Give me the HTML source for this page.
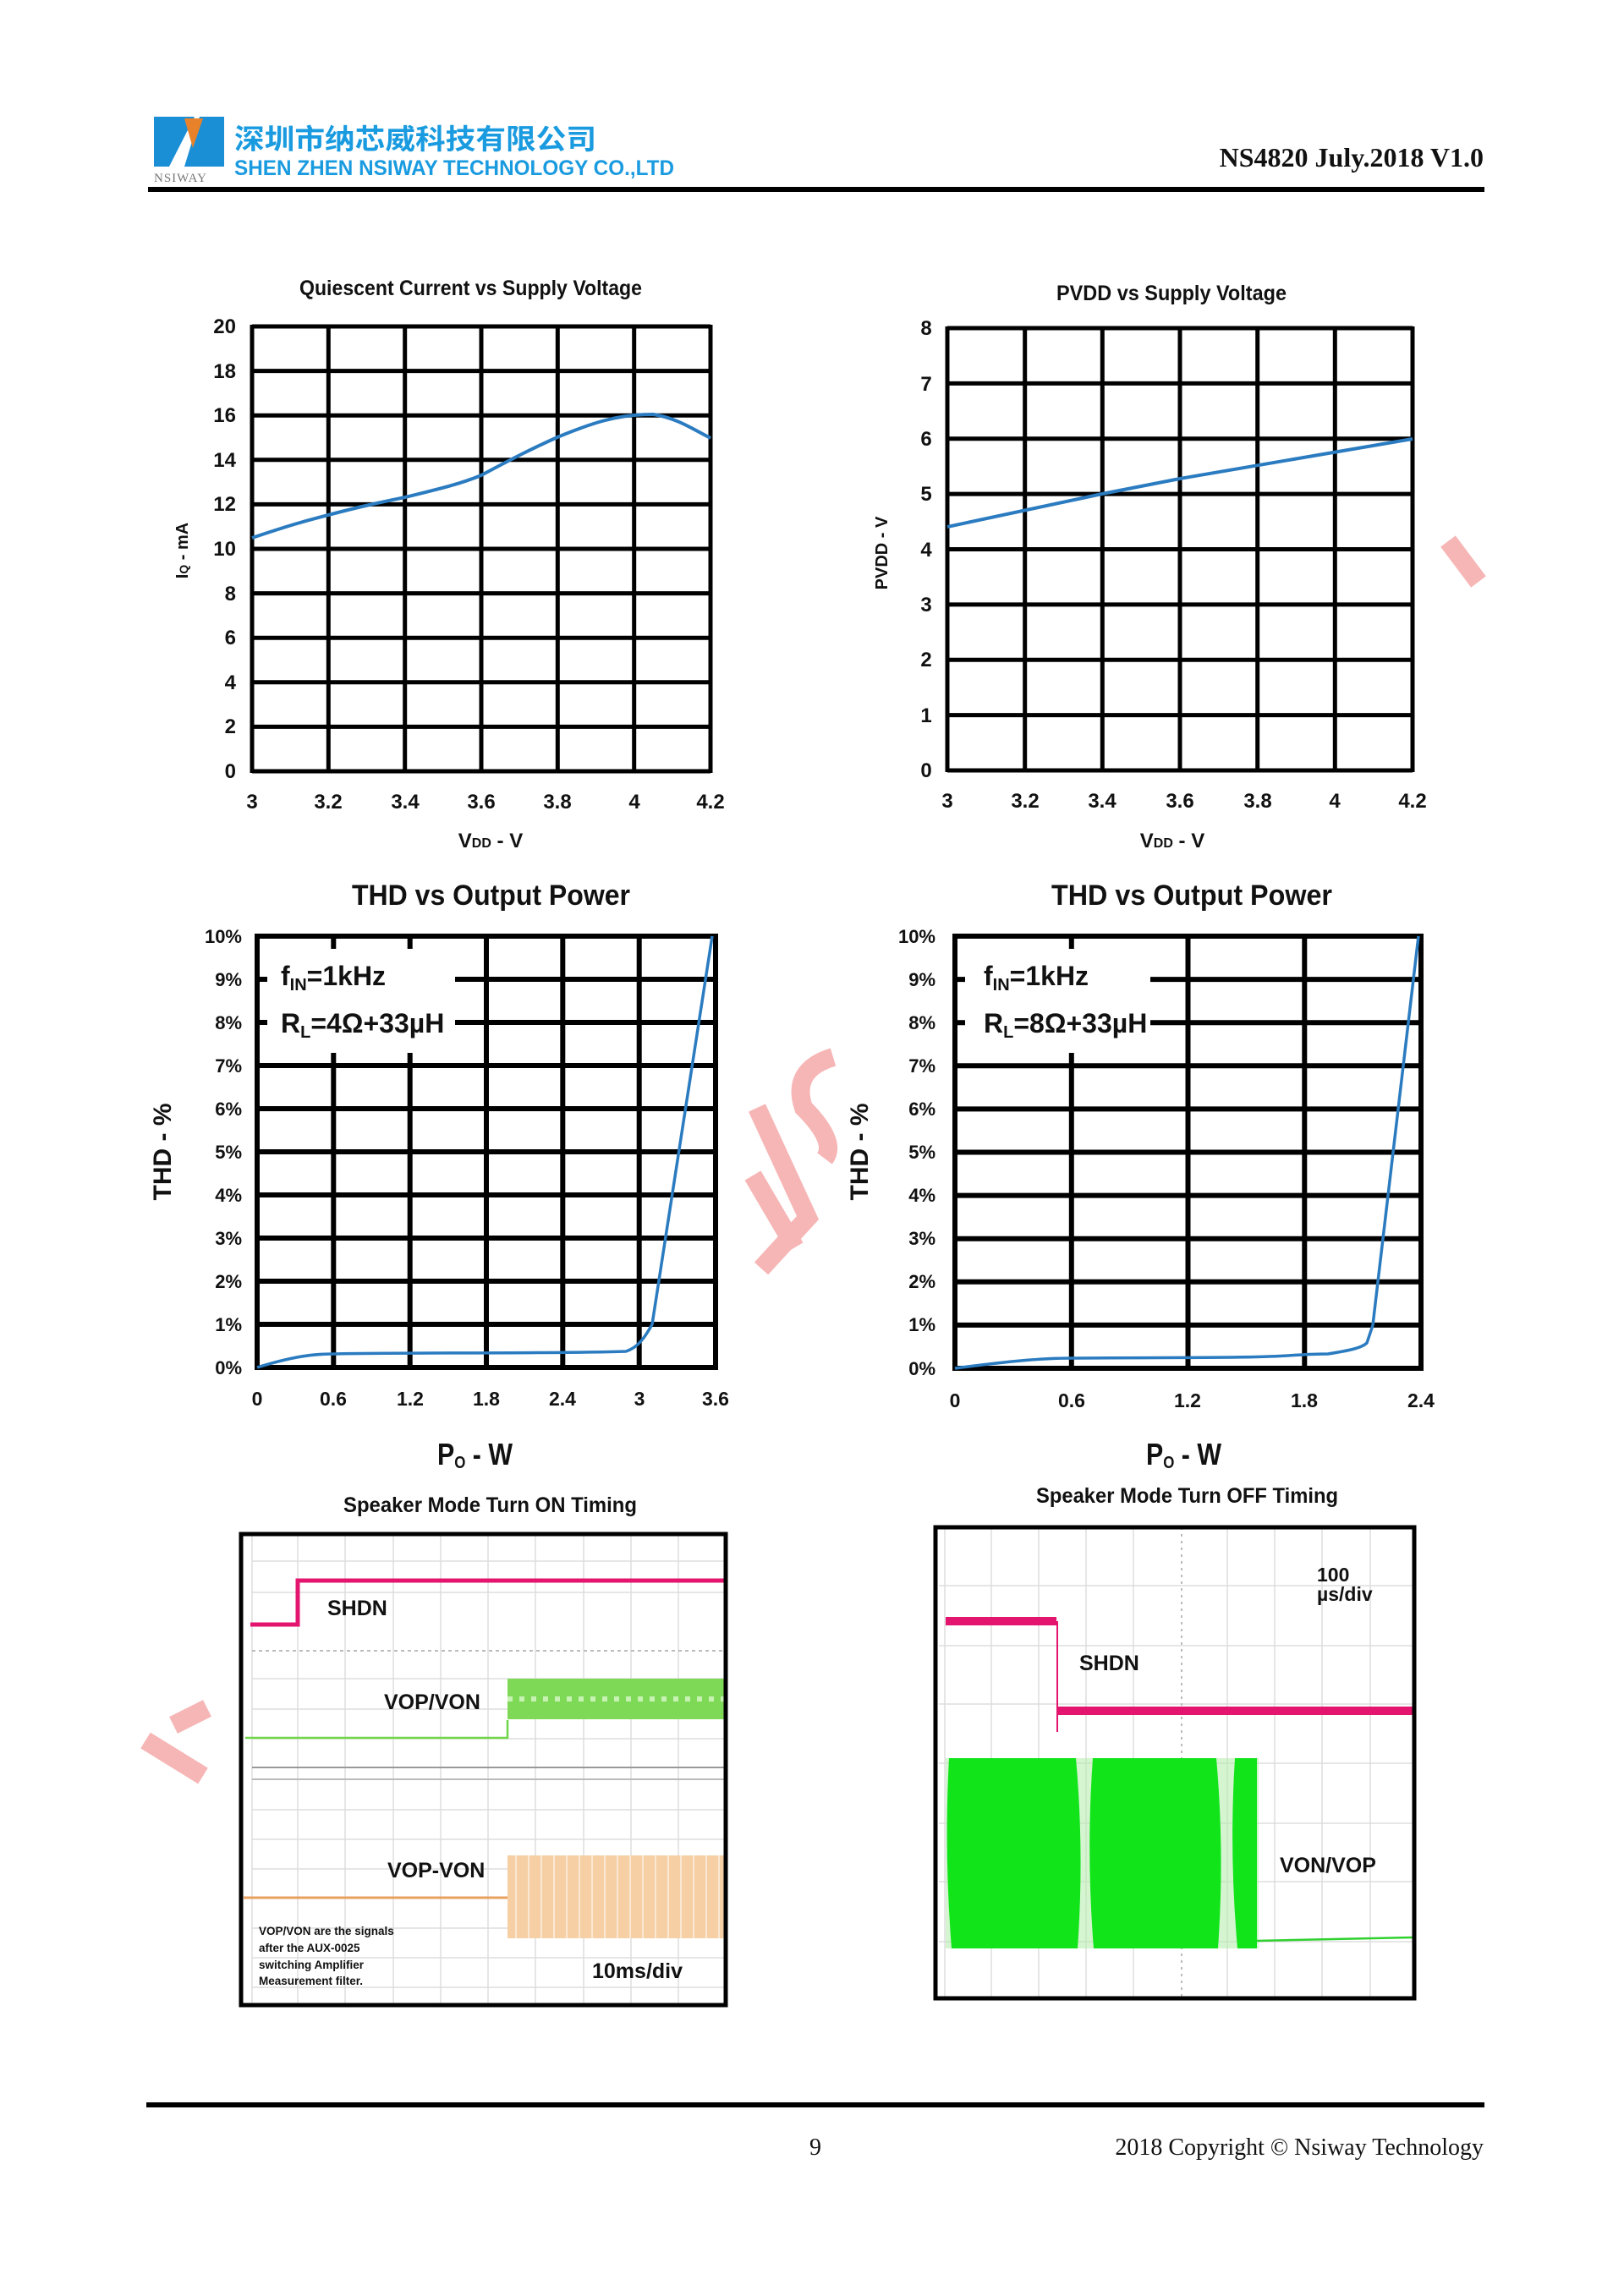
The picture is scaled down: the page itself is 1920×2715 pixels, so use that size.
<!DOCTYPE html>
<html><head><meta charset="utf-8"><style>
html,body{margin:0;padding:0;background:#fff;}
svg{display:block;}
.n{font-family:"Liberation Sans Narrow","Liberation Sans",sans-serif;font-weight:bold;fill:#111;}
.a{font-family:"Liberation Sans",sans-serif;font-weight:bold;fill:#111;}
</style></head><body>
<svg width="1920" height="2715" viewBox="0 0 1920 2715" xmlns="http://www.w3.org/2000/svg">
<rect width="1920" height="2715" fill="#fff"/>
<g fill="none" stroke="#f7b6b6" stroke-width="22" stroke-linecap="butt">
<polyline points="895,1310 955,1440 900,1500"/>
<polyline points="890,1390 940,1475"/>
<path d="M985,1250 Q935,1265 950,1310 Q990,1350 975,1370"/>
<polyline points="1712,640 1748,688"/>
<polyline points="172,2058 240,2100"/>
<polyline points="205,2040 245,2020"/>
</g>
<polygon points="182,138 230,138 200,197 182,197" fill="#1b8fd6"/>
<polygon points="236,138 265,138 265,197 218,197" fill="#1b8fd6"/>
<polygon points="218,140 240,140 228,175" fill="#e8822a"/>
<text x="182" y="215" font-family="Liberation Serif,serif" font-size="15" fill="#777" letter-spacing="1">NSIWAY</text>
<text x="277" y="176" font-family="'Liberation Sans','Noto Sans CJK SC',sans-serif" font-weight="bold" font-size="33" fill="#1a9be0" textLength="428" lengthAdjust="spacingAndGlyphs">深圳市纳芯威科技有限公司</text>
<text x="277" y="207" class="n" style="fill:#1a9be0" font-size="25" textLength="520" lengthAdjust="spacingAndGlyphs">SHEN ZHEN NSIWAY TECHNOLOGY CO.,LTD</text>
<text x="1754" y="197" text-anchor="end" font-family="Liberation Serif,serif" font-weight="bold" font-size="32" fill="#111">NS4820 July.2018 V1.0</text>
<rect x="175" y="221" width="1580" height="6" fill="#000"/>

<!-- Chart 1 -->
<text x="354" y="349" class="n" font-size="25" textLength="405" lengthAdjust="spacingAndGlyphs">Quiescent Current vs  Supply Voltage</text>
<g stroke="#000" stroke-width="5">
<line x1="298" y1="386" x2="840" y2="386"/><line x1="298" y1="438.6" x2="840" y2="438.6"/><line x1="298" y1="491.2" x2="840" y2="491.2"/><line x1="298" y1="543.8" x2="840" y2="543.8"/><line x1="298" y1="596.4" x2="840" y2="596.4"/><line x1="298" y1="649" x2="840" y2="649"/><line x1="298" y1="701.6" x2="840" y2="701.6"/><line x1="298" y1="754.2" x2="840" y2="754.2"/><line x1="298" y1="806.8" x2="840" y2="806.8"/><line x1="298" y1="859.4" x2="840" y2="859.4"/><line x1="298" y1="912" x2="840" y2="912"/>
<line x1="298" y1="384" x2="298" y2="914"/><line x1="388.3" y1="384" x2="388.3" y2="914"/><line x1="478.7" y1="384" x2="478.7" y2="914"/><line x1="569" y1="384" x2="569" y2="914"/><line x1="659.3" y1="384" x2="659.3" y2="914"/><line x1="749.7" y1="384" x2="749.7" y2="914"/><line x1="840" y1="384" x2="840" y2="914"/>
</g>
<path d="M298,636 C340,622 360,616 388,609 C430,598 450,594 479,588 C520,578 545,572 569,562 C610,540 630,530 659,517 C700,500 730,490 772,490 C800,494 820,508 840,518" fill="none" stroke="#2a7bc0" stroke-width="4"/>
<g class="n" font-size="24" text-anchor="end">
<text x="279" y="394">20</text><text x="279" y="447">18</text><text x="279" y="499">16</text><text x="279" y="552">14</text><text x="279" y="604">12</text><text x="279" y="657">10</text><text x="279" y="710">8</text><text x="279" y="762">6</text><text x="279" y="815">4</text><text x="279" y="867">2</text><text x="279" y="920">0</text>
</g>
<g class="n" font-size="24" text-anchor="middle">
<text x="298" y="956">3</text><text x="388" y="956">3.2</text><text x="479" y="956">3.4</text><text x="569" y="956">3.6</text><text x="659" y="956">3.8</text><text x="750" y="956">4</text><text x="840" y="956">4.2</text>
</g>
<text x="580" y="1002" text-anchor="middle" class="n" font-size="24">V<tspan font-size="16">DD</tspan> - V</text>
<text transform="translate(222,651) rotate(-90)" text-anchor="middle" class="a" font-size="20">I<tspan font-size="14">Q</tspan> - mA</text>

<!-- Chart 2 -->
<text x="1249" y="355" class="n" font-size="25" textLength="272" lengthAdjust="spacingAndGlyphs">PVDD vs  Supply Voltage</text>
<g stroke="#000" stroke-width="5">
<line x1="1120" y1="388" x2="1670" y2="388"/><line x1="1120" y1="453.4" x2="1670" y2="453.4"/><line x1="1120" y1="518.8" x2="1670" y2="518.8"/><line x1="1120" y1="584.1" x2="1670" y2="584.1"/><line x1="1120" y1="649.5" x2="1670" y2="649.5"/><line x1="1120" y1="714.9" x2="1670" y2="714.9"/><line x1="1120" y1="780.3" x2="1670" y2="780.3"/><line x1="1120" y1="845.6" x2="1670" y2="845.6"/><line x1="1120" y1="911" x2="1670" y2="911"/>
<line x1="1120" y1="386" x2="1120" y2="913"/><line x1="1211.7" y1="386" x2="1211.7" y2="913"/><line x1="1303.3" y1="386" x2="1303.3" y2="913"/><line x1="1395" y1="386" x2="1395" y2="913"/><line x1="1486.7" y1="386" x2="1486.7" y2="913"/><line x1="1578.3" y1="386" x2="1578.3" y2="913"/><line x1="1670" y1="386" x2="1670" y2="913"/>
</g>
<path d="M1120,623 L1303,584 L1395,566 L1670,519" fill="none" stroke="#2a7bc0" stroke-width="4"/>
<g class="n" font-size="24" text-anchor="middle">
<text x="1095" y="396">8</text><text x="1095" y="462">7</text><text x="1095" y="527">6</text><text x="1095" y="592">5</text><text x="1095" y="658">4</text><text x="1095" y="723">3</text><text x="1095" y="788">2</text><text x="1095" y="854">1</text><text x="1095" y="919">0</text>
<text x="1120" y="955">3</text><text x="1212" y="955">3.2</text><text x="1303" y="955">3.4</text><text x="1395" y="955">3.6</text><text x="1487" y="955">3.8</text><text x="1578" y="955">4</text><text x="1670" y="955">4.2</text>
</g>
<text x="1386" y="1002" text-anchor="middle" class="n" font-size="24">V<tspan font-size="16">DD</tspan> - V</text>
<text transform="translate(1049,654) rotate(-90)" text-anchor="middle" class="a" font-size="20">PVDD - V</text>

<!-- Chart 3 -->
<text x="416" y="1070" class="n" font-size="34" textLength="329" lengthAdjust="spacingAndGlyphs">THD vs Output Power</text>
<g stroke="#000" stroke-width="6">
<line x1="304" y1="1107" x2="846" y2="1107"/><line x1="304" y1="1158" x2="846" y2="1158"/><line x1="304" y1="1209" x2="846" y2="1209"/><line x1="304" y1="1260" x2="846" y2="1260"/><line x1="304" y1="1311" x2="846" y2="1311"/><line x1="304" y1="1362" x2="846" y2="1362"/><line x1="304" y1="1413" x2="846" y2="1413"/><line x1="304" y1="1464" x2="846" y2="1464"/><line x1="304" y1="1515" x2="846" y2="1515"/><line x1="304" y1="1566" x2="846" y2="1566"/><line x1="304" y1="1617" x2="846" y2="1617"/>
<line x1="304" y1="1104" x2="304" y2="1620"/><line x1="394.3" y1="1104" x2="394.3" y2="1620"/><line x1="484.7" y1="1104" x2="484.7" y2="1620"/><line x1="575" y1="1104" x2="575" y2="1620"/><line x1="665.3" y1="1104" x2="665.3" y2="1620"/><line x1="755.7" y1="1104" x2="755.7" y2="1620"/><line x1="846" y1="1104" x2="846" y2="1620"/>
</g>
<rect x="316" y="1122" width="222" height="123" fill="#fff"/>
<text x="332" y="1165" class="n" font-size="32">f<tspan font-size="20" dy="6">IN</tspan><tspan dy="-6">=1kHz</tspan></text>
<text x="332" y="1221" class="n" font-size="32">R<tspan font-size="20" dy="6">L</tspan><tspan dy="-6">=4Ω+33µH</tspan></text>
<path d="M304,1617 C340,1606 365,1601 394,1601 C450,1599 650,1601 740,1598 C752,1594 760,1586 771,1566 L842,1107" fill="none" stroke="#2a7bc0" stroke-width="3.5"/>
<g class="n" font-size="22" text-anchor="end">
<text x="286" y="1115">10%</text><text x="286" y="1166">9%</text><text x="286" y="1217">8%</text><text x="286" y="1268">7%</text><text x="286" y="1319">6%</text><text x="286" y="1370">5%</text><text x="286" y="1421">4%</text><text x="286" y="1472">3%</text><text x="286" y="1523">2%</text><text x="286" y="1574">1%</text><text x="286" y="1625">0%</text>
</g>
<g class="n" font-size="23" text-anchor="middle">
<text x="304" y="1662">0</text><text x="394" y="1662">0.6</text><text x="485" y="1662">1.2</text><text x="575" y="1662">1.8</text><text x="665" y="1662">2.4</text><text x="756" y="1662">3</text><text x="846" y="1662">3.6</text>
</g>
<text x="517" y="1732" class="n" font-size="36" textLength="89" lengthAdjust="spacingAndGlyphs">P<tspan font-size="20" dy="4">O</tspan><tspan dy="-4"> - W</tspan></text>
<text transform="translate(202,1362) rotate(-90)" text-anchor="middle" class="a" font-size="30">THD - %</text>

<!-- Chart 4 -->
<text x="1243" y="1070" class="n" font-size="34" textLength="332" lengthAdjust="spacingAndGlyphs">THD vs Output Power</text>
<g stroke="#000" stroke-width="6">
<line x1="1129" y1="1107" x2="1680" y2="1107"/><line x1="1129" y1="1158.1" x2="1680" y2="1158.1"/><line x1="1129" y1="1209.2" x2="1680" y2="1209.2"/><line x1="1129" y1="1260.3" x2="1680" y2="1260.3"/><line x1="1129" y1="1311.4" x2="1680" y2="1311.4"/><line x1="1129" y1="1362.5" x2="1680" y2="1362.5"/><line x1="1129" y1="1413.6" x2="1680" y2="1413.6"/><line x1="1129" y1="1464.7" x2="1680" y2="1464.7"/><line x1="1129" y1="1515.8" x2="1680" y2="1515.8"/><line x1="1129" y1="1566.9" x2="1680" y2="1566.9"/><line x1="1129" y1="1618" x2="1680" y2="1618"/>
<line x1="1129" y1="1104" x2="1129" y2="1621"/><line x1="1266.8" y1="1104" x2="1266.8" y2="1621"/><line x1="1404.5" y1="1104" x2="1404.5" y2="1621"/><line x1="1542.3" y1="1104" x2="1542.3" y2="1621"/><line x1="1680" y1="1104" x2="1680" y2="1621"/>
</g>
<rect x="1141" y="1122" width="219" height="123" fill="#fff"/>
<text x="1163" y="1165" class="n" font-size="32">f<tspan font-size="20" dy="6">IN</tspan><tspan dy="-6">=1kHz</tspan></text>
<text x="1163" y="1221" class="n" font-size="32">R<tspan font-size="20" dy="6">L</tspan><tspan dy="-6">=8Ω+33µH</tspan></text>
<path d="M1129,1618 C1190,1610 1230,1606 1267,1606 C1350,1605 1460,1606 1500,1604 C1530,1603 1545,1601 1570,1601 C1595,1597 1610,1594 1616,1588 L1623,1567 L1677,1107" fill="none" stroke="#2a7bc0" stroke-width="3.5"/>
<g class="n" font-size="22" text-anchor="end">
<text x="1106" y="1115">10%</text><text x="1106" y="1166">9%</text><text x="1106" y="1217">8%</text><text x="1106" y="1268">7%</text><text x="1106" y="1319">6%</text><text x="1106" y="1370">5%</text><text x="1106" y="1421">4%</text><text x="1106" y="1472">3%</text><text x="1106" y="1523">2%</text><text x="1106" y="1574">1%</text><text x="1106" y="1626">0%</text>
</g>
<g class="n" font-size="23" text-anchor="middle">
<text x="1129" y="1664">0</text><text x="1267" y="1664">0.6</text><text x="1404" y="1664">1.2</text><text x="1542" y="1664">1.8</text><text x="1680" y="1664">2.4</text>
</g>
<text x="1355" y="1732" class="n" font-size="36" textLength="89" lengthAdjust="spacingAndGlyphs">P<tspan font-size="20" dy="4">O</tspan><tspan dy="-4"> - W</tspan></text>
<text transform="translate(1026,1362) rotate(-90)" text-anchor="middle" class="a" font-size="30">THD - %</text>

<!-- Scope ON -->
<text x="406" y="1788" class="n" font-size="25" textLength="347" lengthAdjust="spacingAndGlyphs">Speaker Mode Turn ON Timing</text>
<g stroke="#ddd" stroke-width="1.5">
<line x1="298" y1="1815" x2="298" y2="2370"/><line x1="352" y1="1815" x2="352" y2="2370"/><line x1="408" y1="1815" x2="408" y2="2370"/><line x1="465" y1="1815" x2="465" y2="2370"/><line x1="521" y1="1815" x2="521" y2="2370"/><line x1="577" y1="1815" x2="577" y2="2370"/><line x1="633" y1="1815" x2="633" y2="2370"/><line x1="690" y1="1815" x2="690" y2="2370"/><line x1="746" y1="1815" x2="746" y2="2370"/><line x1="802" y1="1815" x2="802" y2="2370"/>
<line x1="298" y1="1846" x2="858" y2="1846"/><line x1="298" y1="1883" x2="858" y2="1883"/><line x1="298" y1="1985" x2="858" y2="1985"/><line x1="298" y1="2021" x2="858" y2="2021"/><line x1="298" y1="2056" x2="858" y2="2056"/><line x1="298" y1="2140" x2="858" y2="2140"/><line x1="298" y1="2175" x2="858" y2="2175"/><line x1="298" y1="2210" x2="858" y2="2210"/><line x1="298" y1="2280" x2="858" y2="2280"/><line x1="298" y1="2315" x2="858" y2="2315"/><line x1="298" y1="2350" x2="858" y2="2350"/>
</g>
<line x1="298" y1="1952" x2="858" y2="1952" stroke="#bbb" stroke-width="2" stroke-dasharray="4,4"/>
<line x1="298" y1="2090" x2="858" y2="2090" stroke="#999" stroke-width="2"/>
<line x1="298" y1="2104" x2="858" y2="2104" stroke="#bbb" stroke-width="2"/>
<polyline points="296,1921 352,1921 352,1869 858,1869" fill="none" stroke="#e3156e" stroke-width="5"/>
<text x="387" y="1910" class="a" font-size="25">SHDN</text>
<rect x="600" y="1985" width="256" height="48" fill="#7ed957"/>
<line x1="600" y1="2009" x2="856" y2="2009" stroke="#c8f2b4" stroke-width="6" stroke-dasharray="6,8"/>
<polyline points="290,2055 600,2055 600,2034" fill="none" stroke="#6fd64a" stroke-width="2.5"/>
<text x="454" y="2021" class="a" font-size="25">VOP/VON</text>
<rect x="600" y="2194" width="256" height="98" fill="#f6cfa4"/>
<g stroke="#fff" stroke-width="1.5" opacity="0.7">
<line x1="610" y1="2194" x2="610" y2="2292"/><line x1="625" y1="2194" x2="625" y2="2292"/><line x1="640" y1="2194" x2="640" y2="2292"/><line x1="655" y1="2194" x2="655" y2="2292"/><line x1="670" y1="2194" x2="670" y2="2292"/><line x1="685" y1="2194" x2="685" y2="2292"/><line x1="700" y1="2194" x2="700" y2="2292"/><line x1="715" y1="2194" x2="715" y2="2292"/><line x1="730" y1="2194" x2="730" y2="2292"/><line x1="745" y1="2194" x2="745" y2="2292"/><line x1="760" y1="2194" x2="760" y2="2292"/><line x1="775" y1="2194" x2="775" y2="2292"/><line x1="790" y1="2194" x2="790" y2="2292"/><line x1="805" y1="2194" x2="805" y2="2292"/><line x1="820" y1="2194" x2="820" y2="2292"/><line x1="835" y1="2194" x2="835" y2="2292"/><line x1="850" y1="2194" x2="850" y2="2292"/>
</g>
<line x1="288" y1="2244" x2="600" y2="2244" stroke="#e8a060" stroke-width="3"/>
<text x="458" y="2220" class="a" font-size="25">VOP-VON</text>
<g class="a" font-size="13.5">
<text x="306" y="2288">VOP/VON are the signals</text><text x="306" y="2308">after the AUX-0025</text><text x="306" y="2328">switching Amplifier</text><text x="306" y="2347">Measurement filter.</text>
</g>
<text x="700" y="2339" class="a" font-size="25">10ms/div</text>
<rect x="285" y="1814" width="573" height="557" fill="none" stroke="#000" stroke-width="5"/>

<!-- Scope OFF -->
<text x="1225" y="1777" class="n" font-size="25" textLength="357" lengthAdjust="spacingAndGlyphs">Speaker Mode Turn OFF Timing</text>
<g stroke="#ddd" stroke-width="1.5">
<line x1="1117" y1="1806" x2="1117" y2="2362"/><line x1="1172" y1="1806" x2="1172" y2="2362"/><line x1="1228" y1="1806" x2="1228" y2="2362"/><line x1="1284" y1="1806" x2="1284" y2="2362"/><line x1="1340" y1="1806" x2="1340" y2="2362"/><line x1="1451" y1="1806" x2="1451" y2="2362"/><line x1="1507" y1="1806" x2="1507" y2="2362"/><line x1="1563" y1="1806" x2="1563" y2="2362"/><line x1="1620" y1="1806" x2="1620" y2="2362"/>
<line x1="1110" y1="1875" x2="1670" y2="1875"/><line x1="1110" y1="1946" x2="1670" y2="1946"/><line x1="1110" y1="2015" x2="1670" y2="2015"/><line x1="1110" y1="2085" x2="1670" y2="2085"/><line x1="1110" y1="2156" x2="1670" y2="2156"/><line x1="1110" y1="2225" x2="1670" y2="2225"/><line x1="1110" y1="2296" x2="1670" y2="2296"/>
</g>
<line x1="1397" y1="1806" x2="1397" y2="2362" stroke="#bbb" stroke-width="2" stroke-dasharray="3,5"/>
<rect x="1118" y="1912" width="131" height="10" fill="#e3156e"/>
<line x1="1250" y1="1917" x2="1250" y2="2048" stroke="#e3156e" stroke-width="2"/>
<rect x="1251" y="2018" width="419" height="10" fill="#e3156e"/>
<text x="1276" y="1975" class="a" font-size="25">SHDN</text>
<text x="1557" y="1870" class="a" font-size="23">100</text>
<text x="1557" y="1893" class="a" font-size="23">µs/div</text>
<rect x="1118" y="2079" width="370" height="225" fill="#b8efb0" opacity="0.6"/>
<path d="M1122,2079 L1272,2079 Q1282,2190 1274,2304 L1125,2304 Q1116,2190 1122,2079Z" fill="#11e51a"/>
<path d="M1292,2079 L1438,2079 Q1448,2190 1440,2304 L1293,2304 Q1284,2190 1292,2079Z" fill="#11e51a"/>
<path d="M1460,2079 L1486,2079 L1486,2304 L1463,2304 Q1453,2190 1460,2079Z" fill="#11e51a"/>
<line x1="1486" y1="2295" x2="1670" y2="2291" stroke="#2fd12f" stroke-width="2.5"/>
<text x="1513" y="2214" class="a" font-size="25">VON/VOP</text>
<rect x="1106" y="1806" width="566" height="557" fill="none" stroke="#000" stroke-width="5"/>

<rect x="173" y="2486" width="1582" height="6" fill="#000"/>
<text x="964" y="2548" text-anchor="middle" font-family="Liberation Serif,serif" font-size="28" fill="#111">9</text>
<text x="1754" y="2548" text-anchor="end" font-family="Liberation Serif,serif" font-size="28" fill="#111">2018 Copyright © Nsiway Technology</text>
</svg>
</body></html>
